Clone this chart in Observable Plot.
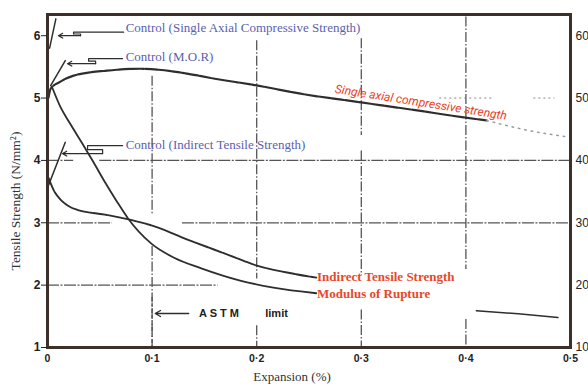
<!DOCTYPE html>
<html><head><meta charset="utf-8">
<script src="https://cdn.jsdelivr.net/npm/d3@7"></script>
<script src="https://cdn.jsdelivr.net/npm/@observablehq/plot@0.6"></script>
<style>
html,body{margin:0;padding:0;background:#fff;}
#chart svg{display:block;}
</style></head><body><div id="chart"></div>
<script>
// ---------- axes ----------
const expansionTicks = [0, 0.1, 0.2, 0.3, 0.4, 0.5];
const expansionTickLabels = ["0", "0·1", "0·2", "0·3", "0·4", "0·5"];
const tensileTicks = [1, 2, 3, 4, 5, 6];
const tensileTickLabels = ["1", "2", "3", "4", "5", "6"];
const compressiveTickLabels = ["10", "20", "30", "40", "50", "60"];

// ---------- series ----------
// Indirect tensile strength (N/mm², left axis)
const itsExpansion = [0.001, 0.006, 0.012, 0.02, 0.03, 0.042, 0.055, 0.073, 0.099, 0.137, 0.169, 0.201, 0.233, 0.257];
const itsStrength  = [3.72, 3.52, 3.38, 3.27, 3.2, 3.16, 3.13, 3.07, 2.96, 2.71, 2.51, 2.31, 2.19, 2.12];
// Modulus of rupture (N/mm², left axis)
const morExpansion = [0.005, 0.012, 0.022, 0.033, 0.044, 0.055, 0.066, 0.077, 0.099, 0.121, 0.147, 0.185, 0.216, 0.257];
const morStrength  = [5.15, 4.87, 4.58, 4.28, 3.97, 3.65, 3.35, 3.07, 2.67, 2.44, 2.27, 2.07, 1.96, 1.87];
// Single axial compressive strength (N/mm², right axis)
const compExpansion = [0.001, 0.003, 0.012, 0.025, 0.057, 0.089, 0.127, 0.16, 0.201, 0.242, 0.3, 0.35, 0.398, 0.42];
const compStrength  = [50.1, 51.5, 52.6, 53.6, 54.4, 54.7, 54.1, 53.1, 52.0, 50.7, 49.3, 48.1, 46.9, 46.4];
const compTailExpansion = [0.42, 0.46, 0.496];
const compTailStrength  = [46.4, 44.8, 43.8];
// short faint trace at lower right (right axis)
const lowTailExpansion = [0.41, 0.45, 0.488];
const lowTailStrength  = [15.9, 15.4, 14.8];

// ---------- control annotations (left-axis units) ----------
const controlLabels = ["Control (Single Axial Compressive Strength)", "Control (M.O.R)", "Control (Indirect Tensile Strength)"];
const controlTraceX = [[0.002, 0.008], [0.003, 0.017], [0.0, 0.017]];
const controlTraceY = [[5.80, 6.27], [5.20, 5.60], [3.56, 4.29]];
const leaderX = [[0.0728, 0.0249, 0.0249, 0.0316, 0.0316], [0.0718, 0.0393, 0.0393, 0.046, 0.046], [0.0718, 0.0383, 0.0383, 0.0527, 0.0527]];
const leaderY = [[6.056, 6.056, 6.027, 6.027, 6.0], [5.631, 5.631, 5.591, 5.591, 5.551], [4.237, 4.237, 4.173, 4.173, 4.109]];
const arrowTipX = [0.0105, 0.0192, 0.0144];
const controlLabelX = [0.0747, 0.0747, 0.0747];
const controlLabelY = [6.12, 5.66, 4.25];

// curve labels
const curveLabels = ["Indirect Tensile Strength", "Modulus of Rupture"];
const curveLabelX = [0.2577, 0.2577];
const curveLabelY = [2.14, 1.865];
const compLabel = "Single axial compressive strength";
const compLabelX = [0.357];
const compLabelY = [4.93];

// ASTM limit
const astmLimit = 0.1;
const astmArrowFrom = 0.135;
const astmLevel = 1.545;
const astmWords = ["A S T M", "limit"];
const astmWordX = [0.164, 0.219];

// grid pieces
const vGridX    = [0.1, 0.1, 0.2, 0.2, 0.3, 0.3, 0.3, 0.4, 0.4];
const vGridFrom = [5.35, 2.62, 5.92, 1.35, 5.95, 4.15, 1.6, 6.3, 1.45];
const vGridTo   = [3.12, 1.0, 2.1, 1.0, 4.4, 2.15, 1.0, 2.25, 1.0];
const hGridY    = [4, 4, 3, 3, 2];
const hGridFrom = [0, 0.05, 0, 0.129, 0];
const hGridTo   = [0.025, 0.5, 0.062, 0.5, 0.163];
const faintGridY = [5, 5];
const faintGridFrom = [0.375, 0.465];
const faintGridTo = [0.425, 0.485];

// ---------- build tables ----------
const zip = (xs, ys) => xs.map((x, i) => ({x, y: ys[i]}));
const its = zip(itsExpansion, itsStrength);
const mor = zip(morExpansion, morStrength);
const comp = zip(compExpansion, compStrength.map(v => v / 10));
const compTail = zip(compTailExpansion, compTailStrength.map(v => v / 10));
const lowTail = zip(lowTailExpansion, lowTailStrength.map(v => v / 10));
const vGrid = vGridX.map((x, i) => ({x, y1: vGridFrom[i], y2: vGridTo[i]}));
const hGrid = hGridY.map((y, i) => ({y, x1: hGridFrom[i], x2: hGridTo[i]}));
const fGrid = faintGridY.map((y, i) => ({y, x1: faintGridFrom[i], x2: faintGridTo[i]}));
const traces = controlTraceX.flatMap((xs, k) => xs.map((x, i) => ({k, x, y: controlTraceY[k][i]})));
const leaders = leaderX.flatMap((xs, k) => xs.map((x, i) => ({k, x, y: leaderY[k][i]})));
const arrows = arrowTipX.map((x2, k) => ({x1: leaderX[k][leaderX[k].length - 1], x2, y: leaderY[k][leaderY[k].length - 1]}));
const ctrlLabels = controlLabels.map((t, i) => ({t, x: controlLabelX[i], y: controlLabelY[i]}));
const cLabels = curveLabels.map((t, i) => ({t, x: curveLabelX[i], y: curveLabelY[i]}));
const astmText = astmWords.map((t, i) => ({t, x: astmWordX[i], y: astmLevel}));

const ink = "#2e2e2e";
const chart = Plot.plot({
  width: 588, height: 387,
  marginLeft: 47, marginRight: 18, marginTop: 14, marginBottom: 40,
  x: {domain: [0, 0.5]},
  y: {domain: [1, 6.34]},
  style: {fontFamily: "Liberation Sans", background: "#fff", color: "#222"},
  marks: [
    Plot.ruleX(vGrid, {x: "x", y1: "y1", y2: "y2", stroke: "#555", strokeWidth: 1.3, strokeDasharray: "10,2,1.5,2"}),
    Plot.ruleY(hGrid, {y: "y", x1: "x1", x2: "x2", stroke: "#555", strokeWidth: 1.3, strokeDasharray: "12,1.5,2,1.5"}),
    Plot.ruleY(fGrid, {y: "y", x1: "x1", x2: "x2", stroke: "#888", strokeWidth: 1, strokeDasharray: "2,3"}),
    Plot.ruleX([astmLimit], {y1: 1.8, y2: 1.0, stroke: "#555", strokeWidth: 1.3, strokeDasharray: "4,2"}),
    Plot.line(comp, {x: "x", y: "y", stroke: ink, strokeWidth: 2.2, strokeDasharray: "12,1.5", curve: "monotone-x"}),
    Plot.line(compTail, {x: "x", y: "y", stroke: "#999", strokeWidth: 1.5, strokeDasharray: "1.5,5", curve: "monotone-x"}),
    Plot.line(its, {x: "x", y: "y", stroke: ink, strokeWidth: 1.9, strokeDasharray: "14,1.2", curve: "monotone-x"}),
    Plot.line(mor, {x: "x", y: "y", stroke: ink, strokeWidth: 1.8, curve: "monotone-x"}),
    Plot.line(lowTail, {x: "x", y: "y", stroke: ink, strokeWidth: 1.5}),
    Plot.line(traces, {x: "x", y: "y", z: "k", stroke: ink, strokeWidth: 1.5}),
    Plot.line(leaders, {x: "x", y: "y", z: "k", stroke: ink, strokeWidth: 1.2}),
    Plot.arrow(arrows, {x1: "x1", x2: "x2", y1: "y", y2: "y", stroke: ink, strokeWidth: 1.2, headLength: 6}),
    Plot.arrow([astmLevel], {x1: astmArrowFrom, x2: astmLimit + 0.003, y1: d => d, y2: d => d, stroke: ink, strokeWidth: 1.3, headLength: 7}),
    Plot.text(astmText, {x: "x", y: "y", text: "t", fontWeight: "bold", fontSize: 11, fill: "#222"}),
    Plot.frame({stroke: "#3b302a", strokeWidth: 3}),
    Plot.axisY({ticks: tensileTicks, tickFormat: d => tensileTickLabels[tensileTicks.indexOf(d)], tickSize: 6, tickPadding: 1, fontWeight: "bold", fontSize: 12, label: null}),
    Plot.axisY({anchor: "right", ticks: tensileTicks, tickFormat: d => compressiveTickLabels[tensileTicks.indexOf(d)], tickSize: 0, tickPadding: 5, fontSize: 12, label: null}),
    Plot.axisX({ticks: expansionTicks, tickFormat: d => expansionTickLabels[expansionTicks.indexOf(d)], tickSize: 0, tickPadding: 7, fontWeight: "bold", fontSize: 10.5, label: null}),
    Plot.text(["Tensile Strength (N/mm²)"], {frameAnchor: "left", textAnchor: "middle", rotate: -90, dx: -32, dy: 20, fontFamily: "Liberation Serif", fontSize: 13.5, fill: "#333"}),
    Plot.text(["Expansion (%)"], {frameAnchor: "bottom", lineAnchor: "middle", dx: -17, dy: 29, fontFamily: "Liberation Serif", fontSize: 13, fill: "#333"}),
    Plot.text(ctrlLabels, {x: "x", y: "y", text: "t", textAnchor: "start", fill: "#5a5fae", fontFamily: "Liberation Serif", fontSize: 13}),
    Plot.text(cLabels, {x: "x", y: "y", text: "t", textAnchor: "start", fill: "#e8482a", fontWeight: "bold", fontFamily: "Liberation Serif", fontSize: 13}),
    Plot.text([compLabel], {x: compLabelX, y: compLabelY, rotate: 9, fill: "#e8401c", fontStyle: "italic", fontFamily: "Roboto", fontSize: 12})
  ]
});
document.getElementById("chart").appendChild(chart);
</script>
</body></html>
